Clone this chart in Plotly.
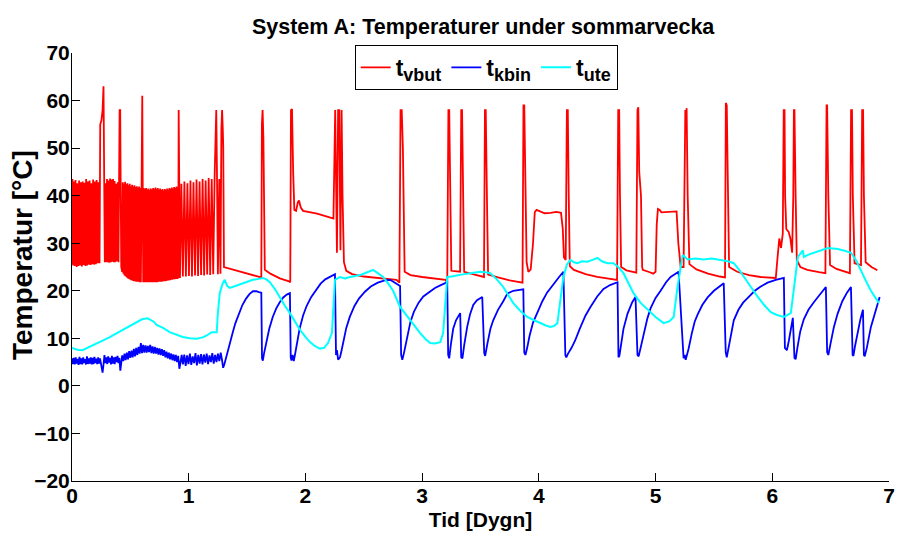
import plotly.graph_objects as go

# ---------------- data ----------------
# t_vbut : (time [days], temperature [degC])
red_pts = [
    (0.000, 25.5), (0.004, 43.5), (0.010, 25.3), (0.016, 43.0), (0.024, 25.2), (0.030, 43.3),
    (0.040, 25.0), (0.046, 42.6), (0.055, 25.2), (0.061, 43.2), (0.070, 25.3), (0.076, 42.8),
    (0.085, 25.1), (0.091, 43.0), (0.100, 25.4), (0.106, 42.7), (0.115, 25.2), (0.121, 43.5),
    (0.130, 25.3), (0.136, 43.0), (0.145, 25.5), (0.151, 43.2), (0.160, 25.4), (0.166, 42.6),
    (0.175, 25.6), (0.181, 43.4), (0.190, 25.5), (0.196, 43.0), (0.205, 25.6), (0.211, 43.3),
    (0.220, 25.8), (0.226, 42.8), (0.236, 25.8), (0.242, 55.0), (0.252, 55.8), (0.262, 58.0),
    (0.270, 63.0), (0.275, 42.0), (0.281, 26.0), (0.287, 42.6), (0.294, 26.0), (0.300, 43.5),
    (0.307, 26.0), (0.313, 43.2), (0.320, 25.9), (0.326, 43.6), (0.333, 26.0), (0.339, 43.4),
    (0.346, 26.1), (0.352, 43.5), (0.359, 26.0), (0.365, 43.1), (0.372, 26.0), (0.378, 42.5),
    (0.386, 26.2), (0.392, 42.8), (0.398, 26.0), (0.408, 58.0), (0.413, 58.0), (0.417, 42.5),
    (0.422, 25.0),
    (0.430, 24.0), (0.435, 42.8), (0.440, 23.6), (0.445, 42.5), (0.450, 23.2), (0.455, 42.9),
    (0.460, 23.0), (0.465, 42.4), (0.470, 22.8), (0.475, 42.6), (0.480, 22.6), (0.485, 42.2),
    (0.490, 22.5), (0.495, 42.5), (0.500, 22.3), (0.505, 42.0), (0.510, 22.2), (0.515, 42.3),
    (0.520, 22.1), (0.525, 41.9), (0.530, 22.0), (0.535, 42.2), (0.540, 22.0), (0.545, 41.8),
    (0.550, 21.9), (0.555, 42.0), (0.560, 21.9), (0.565, 41.7), (0.570, 21.9), (0.575, 41.9),
    (0.580, 21.8), (0.585, 41.6), (0.590, 21.8), (0.596, 55.0), (0.602, 61.0), (0.606, 41.5),
    (0.610, 21.8), (0.615, 41.6), (0.620, 21.8), (0.625, 41.4), (0.630, 21.8), (0.635, 41.6),
    (0.640, 21.8), (0.645, 41.3), (0.650, 21.8), (0.655, 41.5), (0.660, 21.8), (0.665, 41.2),
    (0.670, 21.8), (0.675, 41.5), (0.680, 21.8), (0.685, 41.3), (0.690, 21.8), (0.695, 41.6),
    (0.700, 21.8), (0.705, 41.4), (0.710, 21.8), (0.715, 41.7), (0.720, 21.8), (0.725, 41.4),
    (0.730, 21.8), (0.735, 41.6), (0.740, 21.9), (0.745, 41.3), (0.750, 21.9), (0.755, 41.5),
    (0.760, 21.9), (0.765, 41.2), (0.770, 21.9), (0.775, 41.4), (0.780, 22.0), (0.785, 41.1),
    (0.790, 22.0), (0.795, 41.4), (0.800, 22.0), (0.805, 41.2), (0.810, 22.1), (0.815, 41.5),
    (0.820, 22.1), (0.825, 41.3), (0.830, 22.2), (0.835, 41.6), (0.840, 22.2), (0.845, 41.4),
    (0.850, 22.3), (0.855, 41.7), (0.860, 22.3), (0.865, 41.5), (0.870, 22.4), (0.875, 41.8),
    (0.880, 22.4), (0.885, 41.6), (0.890, 22.5), (0.895, 41.9), (0.900, 22.5), (0.905, 41.7),
    (0.910, 22.6), (0.914, 58.0), (0.918, 41.5), (0.925, 22.7),
    (0.937, 42.5), (0.950, 23.0), (0.963, 43.0), (0.976, 23.0), (0.989, 42.6), (1.002, 23.1),
    (1.015, 43.2), (1.028, 23.0), (1.041, 42.8), (1.054, 23.2), (1.067, 43.4), (1.080, 23.1),
    (1.093, 43.0), (1.106, 23.3), (1.119, 43.5), (1.132, 23.2), (1.145, 43.2), (1.158, 23.4),
    (1.171, 43.7), (1.184, 23.3), (1.197, 43.5), (1.210, 23.5), (1.222, 44.0), (1.230, 55.0),
    (1.236, 58.0), (1.242, 45.0), (1.250, 23.5), (1.262, 43.5), (1.272, 23.6), (1.280, 54.0),
    (1.286, 58.0), (1.292, 54.0), (1.296, 50.0), (1.302, 25.0),
    (1.400, 24.3), (1.500, 23.6), (1.600, 23.0), (1.622, 22.8), (1.627, 55.0), (1.633, 58.0),
    (1.640, 52.0), (1.646, 25.0), (1.652, 24.4), (1.700, 23.6), (1.780, 22.6), (1.860, 22.0),
    (1.870, 21.8), (1.876, 58.0), (1.885, 58.2), (1.895, 45.0), (1.905, 37.0), (1.920, 36.8),
    (1.935, 38.6), (1.945, 39.0), (1.960, 37.5), (1.980, 36.8), (2.000, 36.7), (2.100, 36.2),
    (2.200, 35.5), (2.240, 35.2), (2.255, 58.0), (2.262, 45.0), (2.270, 28.0), (2.280, 58.0),
    (2.290, 58.0), (2.300, 28.5), (2.310, 58.0), (2.318, 40.0), (2.330, 26.0), (2.350, 24.2),
    (2.400, 23.5), (2.500, 23.0), (2.600, 22.7), (2.700, 22.5), (2.780, 22.3), (2.805, 21.7),
    (2.815, 58.0), (2.825, 58.0), (2.835, 50.0), (2.850, 24.0), (2.900, 23.3), (3.000, 22.9),
    (3.100, 22.6), (3.200, 22.3), (3.215, 21.7), (3.225, 58.0), (3.232, 58.0), (3.240, 42.0),
    (3.250, 24.2), (3.325, 24.0), (3.335, 58.0), (3.342, 58.0), (3.350, 40.0), (3.360, 24.0),
    (3.450, 23.4), (3.530, 22.9), (3.538, 58.0), (3.545, 58.0), (3.555, 40.0), (3.565, 23.4),
    (3.650, 22.8), (3.750, 22.2), (3.860, 21.7), (3.868, 59.0), (3.875, 59.0), (3.885, 40.0),
    (3.895, 26.0), (3.910, 24.0), (3.930, 24.5), (3.950, 30.0), (3.965, 36.5), (3.980, 37.0),
    (4.000, 36.8), (4.050, 36.3), (4.100, 36.4), (4.150, 36.6), (4.190, 36.4), (4.205, 33.0),
    (4.215, 27.0), (4.230, 26.5), (4.240, 58.0), (4.248, 58.0), (4.256, 40.0), (4.265, 25.2),
    (4.300, 24.4), (4.400, 23.5), (4.500, 22.9), (4.600, 22.5), (4.670, 22.3), (4.680, 58.0),
    (4.688, 58.0), (4.695, 40.0), (4.705, 25.0), (4.750, 24.3), (4.835, 23.8), (4.845, 58.0),
    (4.852, 58.6), (4.860, 45.0), (4.875, 40.0), (4.885, 25.0), (4.890, 24.4), (4.950, 23.9),
    (4.980, 23.6), (5.000, 24.0), (5.010, 34.0), (5.020, 37.2), (5.035, 37.0), (5.050, 36.5),
    (5.100, 36.6), (5.180, 36.7), (5.195, 30.0), (5.215, 25.0), (5.240, 25.0), (5.248, 56.0),
    (5.255, 58.0), (5.260, 55.0), (5.266, 58.4), (5.275, 40.0), (5.290, 25.6), (5.350, 24.5),
    (5.450, 23.6), (5.550, 23.0), (5.595, 22.8), (5.602, 59.5), (5.610, 59.0), (5.618, 45.0),
    (5.630, 25.0), (5.700, 24.0), (5.800, 23.3), (5.900, 22.9), (6.030, 22.7), (6.045, 27.0),
    (6.060, 31.0), (6.075, 29.0), (6.090, 32.0), (6.098, 58.0), (6.105, 58.0), (6.110, 40.0),
    (6.120, 33.0), (6.140, 32.4), (6.155, 31.0), (6.170, 28.0), (6.180, 40.0), (6.185, 58.0),
    (6.190, 58.0), (6.200, 40.0), (6.210, 26.5), (6.240, 25.0), (6.300, 24.4), (6.400, 23.9),
    (6.455, 23.7), (6.465, 59.0), (6.470, 59.0), (6.480, 40.0), (6.495, 25.4), (6.550, 24.6),
    (6.665, 23.7), (6.675, 58.0), (6.683, 58.0), (6.690, 40.0), (6.705, 25.8), (6.760, 25.4),
    (6.770, 58.0), (6.778, 58.0), (6.785, 40.0), (6.800, 26.0), (6.850, 25.0), (6.900, 24.3),
]

# t_kbin
blue_pts = [
    (0.000, 5.8), (0.008, 4.6), (0.016, 5.9), (0.024, 4.5), (0.032, 6.0), (0.040, 4.7),
    (0.048, 5.7), (0.056, 4.4), (0.064, 6.1), (0.072, 4.6), (0.080, 5.8), (0.088, 4.5),
    (0.096, 6.0), (0.104, 4.8), (0.112, 5.6), (0.120, 4.5), (0.128, 6.2), (0.136, 4.6),
    (0.144, 5.8), (0.152, 4.7), (0.160, 6.0), (0.168, 4.5), (0.176, 5.9), (0.184, 4.6),
    (0.192, 6.1), (0.200, 4.8), (0.208, 5.7), (0.216, 4.6), (0.224, 6.0), (0.232, 4.7),
    (0.240, 5.8), (0.250, 4.2), (0.262, 2.8), (0.270, 4.5), (0.278, 6.5), (0.286, 4.8),
    (0.294, 6.0), (0.302, 4.6), (0.310, 6.2), (0.318, 4.9), (0.326, 5.9), (0.334, 4.5),
    (0.342, 6.3), (0.350, 4.7), (0.358, 6.0), (0.366, 4.6), (0.374, 6.1), (0.382, 5.0),
    (0.390, 6.3), (0.398, 4.8), (0.406, 5.9), (0.414, 3.2), (0.422, 5.5), (0.430, 6.4),
    (0.440, 5.2), (0.450, 6.8), (0.460, 5.4), (0.470, 7.0), (0.480, 5.6), (0.490, 7.3),
    (0.500, 5.9), (0.510, 7.4), (0.520, 6.0), (0.530, 7.8), (0.540, 6.2), (0.550, 8.0),
    (0.560, 6.5), (0.570, 8.2), (0.580, 6.8), (0.590, 9.0), (0.600, 6.9), (0.610, 8.6),
    (0.620, 7.0), (0.630, 8.5), (0.640, 7.0), (0.650, 8.4), (0.660, 7.1), (0.670, 8.6),
    (0.680, 6.9), (0.690, 8.3), (0.700, 6.8), (0.710, 8.2), (0.720, 6.8), (0.730, 8.0),
    (0.740, 6.6), (0.750, 7.9), (0.760, 6.5), (0.770, 7.7), (0.780, 6.3), (0.790, 7.5),
    (0.800, 6.0), (0.810, 7.2), (0.820, 5.8), (0.830, 7.0), (0.840, 5.6), (0.850, 6.8),
    (0.860, 5.4), (0.870, 6.6), (0.880, 5.2), (0.890, 6.5), (0.900, 5.0), (0.910, 6.3),
    (0.920, 3.6), (0.930, 5.6), (0.940, 6.5), (0.950, 4.5), (0.962, 6.6), (0.974, 4.2),
    (0.986, 6.4), (0.998, 4.6), (1.010, 6.8), (1.022, 4.4), (1.034, 6.2), (1.046, 4.8),
    (1.058, 6.9), (1.070, 4.3), (1.082, 6.5), (1.094, 4.7), (1.106, 6.7), (1.118, 4.5),
    (1.130, 6.6), (1.142, 4.9), (1.154, 6.8), (1.166, 4.6), (1.178, 6.4), (1.190, 5.0),
    (1.202, 6.9), (1.214, 4.7), (1.226, 6.5), (1.238, 5.0), (1.250, 6.8), (1.262, 5.2),
    (1.274, 7.0), (1.285, 5.5), (1.295, 3.8), (1.305, 4.5),
    (1.320, 6.0), (1.340, 7.5), (1.360, 9.5), (1.380, 11.5), (1.400, 13.2), (1.430, 15.3),
    (1.460, 17.0), (1.490, 18.3), (1.520, 19.3), (1.550, 19.9), (1.580, 19.9), (1.600, 19.7),
    (1.622, 19.6), (1.628, 5.8), (1.635, 5.3), (1.645, 6.8), (1.655, 8.0), (1.670, 9.8),
    (1.690, 12.0), (1.720, 14.5), (1.750, 16.3), (1.780, 17.6), (1.810, 18.6), (1.840, 19.2),
    (1.867, 19.5), (1.874, 6.0), (1.880, 5.3), (1.890, 6.5), (1.900, 5.2), (1.910, 6.5),
    (1.930, 9.5), (1.950, 12.0), (1.980, 14.8), (2.010, 16.8), (2.050, 18.7), (2.090, 20.2),
    (2.130, 21.5), (2.170, 22.4), (2.210, 23.0), (2.253, 23.5), (2.262, 6.5), (2.270, 7.5),
    (2.280, 5.5), (2.296, 6.0), (2.310, 7.5), (2.330, 10.0), (2.350, 12.2), (2.380, 14.5),
    (2.420, 16.8), (2.460, 18.4), (2.510, 19.8), (2.560, 20.9), (2.620, 21.7), (2.680, 22.2),
    (2.725, 22.3), (2.760, 21.8), (2.811, 21.0), (2.820, 6.5), (2.830, 5.5), (2.845, 7.0),
    (2.860, 9.0), (2.880, 11.5), (2.900, 13.5), (2.930, 15.6), (2.970, 17.5), (3.010, 18.8),
    (3.060, 19.8), (3.110, 20.6), (3.160, 21.2), (3.215, 21.8), (3.223, 6.5), (3.232, 5.8),
    (3.245, 8.5), (3.266, 12.0), (3.290, 13.8), (3.326, 15.3), (3.335, 6.0), (3.345, 5.8),
    (3.360, 8.5), (3.386, 12.4), (3.410, 15.0), (3.438, 17.0), (3.470, 18.0), (3.515, 18.7),
    (3.532, 6.9), (3.540, 6.3), (3.560, 9.0), (3.585, 12.0), (3.609, 13.8), (3.650, 16.0),
    (3.695, 17.8), (3.730, 19.4), (3.781, 20.0), (3.867, 20.3), (3.875, 7.0), (3.885, 6.5),
    (3.900, 8.0), (3.920, 10.5), (3.950, 13.3), (3.987, 15.5), (4.030, 17.8), (4.070, 19.6),
    (4.120, 21.3), (4.170, 22.8), (4.210, 24.0), (4.227, 6.5), (4.235, 6.0), (4.250, 6.8),
    (4.280, 8.0), (4.310, 9.5), (4.350, 12.0), (4.400, 14.8), (4.442, 16.6), (4.500, 18.8),
    (4.554, 20.4), (4.610, 21.2), (4.674, 21.8), (4.682, 6.0), (4.690, 6.3), (4.705, 9.0),
    (4.725, 12.0), (4.760, 15.2), (4.800, 17.6), (4.828, 18.7), (4.845, 6.5), (4.855, 6.2),
    (4.875, 8.5), (4.897, 10.8), (4.930, 14.2), (4.957, 16.3), (5.000, 18.5), (5.043, 20.0),
    (5.090, 21.8), (5.129, 22.9), (5.197, 24.0), (5.240, 5.8), (5.250, 6.5), (5.258, 5.5),
    (5.270, 6.5), (5.283, 7.8), (5.310, 11.0), (5.335, 13.5), (5.360, 15.0), (5.400, 17.0),
    (5.446, 18.6), (5.500, 20.0), (5.584, 21.6), (5.601, 7.1), (5.610, 6.0), (5.625, 8.0),
    (5.645, 11.0), (5.670, 13.8), (5.710, 16.0), (5.750, 17.5), (5.790, 18.5), (5.850, 20.0),
    (5.901, 20.9), (5.960, 21.7), (6.030, 22.3), (6.099, 22.7), (6.108, 8.0), (6.125, 7.5),
    (6.142, 9.5), (6.160, 12.5), (6.176, 14.3), (6.190, 5.9), (6.200, 5.6), (6.215, 8.0),
    (6.240, 11.5), (6.270, 14.0), (6.310, 16.0), (6.356, 17.6), (6.400, 19.0), (6.459, 20.8),
    (6.470, 7.1), (6.480, 6.5), (6.500, 9.0), (6.528, 12.4), (6.560, 15.2), (6.600, 17.8),
    (6.640, 19.6), (6.674, 20.8), (6.688, 6.5), (6.695, 6.3), (6.710, 8.5), (6.734, 11.5),
    (6.755, 14.0), (6.777, 16.0), (6.785, 6.5), (6.792, 6.2), (6.810, 8.0), (6.845, 12.4),
    (6.880, 15.5), (6.920, 18.7),
]

# t_ute
cyan_pts = [
    (0.000, 8.0), (0.045, 7.6), (0.090, 7.5), (0.160, 8.3), (0.236, 9.2), (0.320, 10.2),
    (0.400, 11.3), (0.480, 12.4), (0.550, 13.4), (0.600, 14.0), (0.648, 14.2), (0.700, 13.5),
    (0.725, 12.8), (0.780, 12.2), (0.837, 11.3), (0.890, 10.8), (0.949, 10.3), (1.010, 10.0),
    (1.069, 9.9), (1.120, 10.2), (1.155, 10.6), (1.197, 11.3), (1.240, 11.3), (1.249, 15.0),
    (1.266, 19.5), (1.290, 21.5), (1.309, 22.3), (1.330, 21.0), (1.352, 20.6), (1.400, 21.0),
    (1.438, 21.3), (1.500, 21.8), (1.550, 22.3), (1.600, 22.5), (1.635, 22.7), (1.665, 22.4),
    (1.695, 21.8), (1.740, 20.3), (1.781, 18.5), (1.820, 17.0), (1.867, 15.3), (1.910, 13.5),
    (1.953, 11.8), (2.000, 10.3), (2.039, 9.2), (2.080, 8.4), (2.124, 7.8), (2.160, 8.0),
    (2.193, 9.0), (2.227, 11.1), (2.253, 22.3), (2.296, 22.9), (2.340, 22.6), (2.382, 22.9),
    (2.430, 23.1), (2.468, 23.3), (2.520, 23.8), (2.580, 24.4), (2.620, 23.7), (2.665, 22.9),
    (2.710, 21.5), (2.751, 20.0), (2.811, 16.6), (2.860, 15.0), (2.897, 13.9), (2.940, 12.4),
    (2.983, 11.1), (3.030, 9.8), (3.069, 9.0), (3.110, 8.9), (3.155, 9.2), (3.180, 11.1),
    (3.215, 22.9), (3.250, 23.0), (3.301, 23.3), (3.360, 23.5), (3.412, 23.7), (3.460, 23.8),
    (3.498, 24.0), (3.540, 23.9), (3.584, 23.7), (3.640, 22.4), (3.695, 20.8), (3.740, 19.0),
    (3.781, 17.4), (3.840, 15.8), (3.901, 14.5), (3.960, 13.8), (4.013, 13.2), (4.060, 12.7),
    (4.099, 12.4), (4.130, 12.6), (4.159, 13.2), (4.210, 22.9), (4.240, 25.5), (4.270, 26.5),
    (4.300, 26.0), (4.330, 25.8), (4.370, 26.2), (4.416, 26.1), (4.460, 26.5), (4.502, 26.9),
    (4.540, 26.2), (4.588, 25.8), (4.639, 25.8), (4.680, 25.0), (4.725, 23.7), (4.770, 21.5),
    (4.811, 19.5), (4.870, 17.5), (4.931, 16.0), (5.000, 14.5), (5.069, 13.2), (5.120, 13.6),
    (5.155, 14.5), (5.189, 21.0), (5.232, 27.5), (5.275, 26.6), (5.340, 26.8), (5.412, 26.6),
    (5.480, 26.8), (5.558, 26.5), (5.620, 26.2), (5.670, 25.8), (5.710, 24.6), (5.755, 23.0),
    (5.810, 21.0), (5.876, 18.7), (5.930, 17.0), (5.987, 15.5), (6.040, 14.9), (6.099, 14.5),
    (6.159, 15.3), (6.219, 27.1), (6.262, 28.5), (6.270, 27.1), (6.310, 27.6), (6.356, 28.0),
    (6.420, 28.6), (6.476, 29.0), (6.520, 28.9), (6.562, 28.8), (6.620, 28.4), (6.674, 28.0),
    (6.720, 26.3), (6.760, 24.4), (6.800, 22.2), (6.845, 20.0), (6.880, 18.6), (6.914, 17.4),
]

series_names = [
    "t<sub><span style='font-size:18px'>vbut</span></sub>",
    "t<sub><span style='font-size:18px'>kbin</span></sub>",
    "t<sub><span style='font-size:18px'>ute</span></sub>",
]
series_colors = ["#ff0000", "#0000ff", "#00ffff"]
series_widths = [1.8, 1.8, 2.0]
x_ticks = [0, 1, 2, 3, 4, 5, 6, 7]
y_ticks = [-20, -10, 0, 10, 20, 30, 40, 50, 60, 70]

FONT = "Arial, Liberation Sans, Helvetica, sans-serif"

fig = go.Figure()
for pts, name, col, w in zip([red_pts, blue_pts, cyan_pts], series_names, series_colors, series_widths):
    fig.add_trace(go.Scatter(
        x=[p[0] for p in pts], y=[p[1] for p in pts], mode="lines", name=name,
        line=dict(color=col, width=w),
    ))

axis_common = dict(
    showline=True, linecolor="#000000", linewidth=1, mirror=False,
    ticks="inside", ticklen=8, tickwidth=1, tickcolor="#000000",
    showgrid=False, zeroline=False, automargin=False,
    tickfont=dict(family=FONT, size=21, color="#000000", weight="bold"),
)

fig.update_layout(
    width=898, height=536,
    paper_bgcolor="#ffffff", plot_bgcolor="#ffffff",
    margin=dict(l=72, r=9, t=53, b=55),
    title=dict(text="System A: Temperaturer under sommarvecka", x=0.538, xanchor="center",
               y=0.951, yanchor="middle", yref="container",
               font=dict(family=FONT, size=21.5, color="#000000", weight="bold")),
    xaxis=dict(range=[0, 7], tickvals=x_ticks, ticklabelstandoff=-4, **axis_common,
               title=dict(text="Tid [Dygn]", standoff=6,
                          font=dict(family=FONT, size=21, color="#000000", weight="bold"))),
    yaxis=dict(range=[-20, 70], tickvals=y_ticks, ticklabelstandoff=-3, **axis_common),
    annotations=[dict(
        text="Temperatur [°C]", textangle=-90, xref="paper", yref="paper",
        x=-0.0612, y=0.528, xanchor="center", yanchor="middle", showarrow=False,
        font=dict(family=FONT, size=28, color="#000000", weight="bold"),
    )],
    legend=dict(orientation="h", x=0.346, xanchor="left", y=1.019, yanchor="top",
                bgcolor="#ffffff", bordercolor="#000000", borderwidth=1,
                font=dict(family=FONT, size=23, color="#000000", weight="bold"),
                itemwidth=30, tracegroupgap=0),
    showlegend=True,
)

fig.write_html("out.html", config={"displayModeBar": False},
               post_script="document.body.style.margin='0px';")
